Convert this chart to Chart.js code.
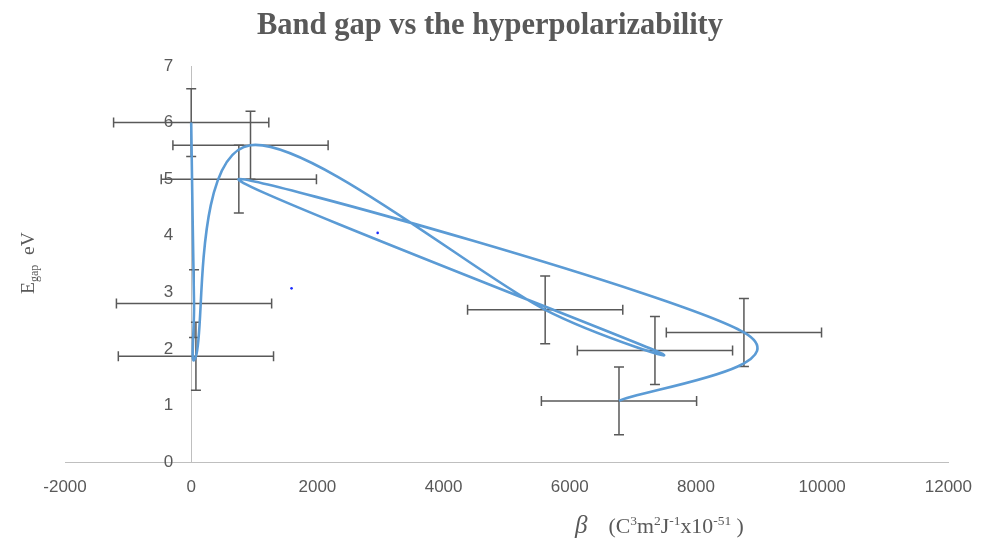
<!DOCTYPE html>
<html>
<head>
<meta charset="utf-8">
<title>Band gap vs the hyperpolarizability</title>
<script src="https://cdn.jsdelivr.net/npm/chart.js@4.4.1/dist/chart.umd.min.js"></script>
<style>
  html, body { margin: 0; padding: 0; background: #fff; }
  #wrap { width: 987px; height: 540px; }
</style>
</head>
<body>
<div id="wrap"><canvas id="gapChart" width="987" height="540"></canvas></div>
<script>
// points in the order the smoothed line runs through them
const betaValues = [0, 45, 75, 940, 5610, 7350, 755, 8760, 6780];
const gapValues = [6.0, 2.8, 1.87, 5.6, 2.69, 1.97, 5.0, 2.29, 1.08];
const betaErrors = [1230, 1230, 1230, 1230, 1230, 1230, 1230, 1230, 1230];
const gapErrors = [0.6, 0.6, 0.6, 0.6, 0.6, 0.6, 0.6, 0.6, 0.6];

// two stray blue dots in the plot
const dotBeta = [1590, 2955];
const dotGap = [3.07, 4.05];

const xTicks = [-2000, 0, 2000, 4000, 6000, 8000, 10000, 12000];
const yTicks = [0, 1, 2, 3, 4, 5, 6, 7];

const textGray = "#595959";
const tickFont = { family: "'Liberation Sans', Arial, sans-serif", size: 17 };
const serif = "'Liberation Serif', 'Times New Roman', serif";

// error bars, drawn under the line
const errorBars = {
    id: "errorBars",
    beforeDatasetsDraw(chart) {
        const ctx = chart.ctx;
        const xs = chart.scales.x;
        const ys = chart.scales.y;
        const cap = 5;
        ctx.save();
        ctx.strokeStyle = "#595959";
        ctx.lineWidth = 1.5;
        for (let i = 0; i < betaValues.length; i++) {
            const px = xs.getPixelForValue(betaValues[i]);
            const py = ys.getPixelForValue(gapValues[i]);
            const x1 = xs.getPixelForValue(betaValues[i] - betaErrors[i]);
            const x2 = xs.getPixelForValue(betaValues[i] + betaErrors[i]);
            const y1 = ys.getPixelForValue(gapValues[i] + gapErrors[i]);
            const y2 = ys.getPixelForValue(gapValues[i] - gapErrors[i]);
            ctx.beginPath();
            ctx.moveTo(x1, py); ctx.lineTo(x2, py);
            ctx.moveTo(x1, py - cap); ctx.lineTo(x1, py + cap);
            ctx.moveTo(x2, py - cap); ctx.lineTo(x2, py + cap);
            ctx.moveTo(px, y1); ctx.lineTo(px, y2);
            ctx.moveTo(px - cap, y1); ctx.lineTo(px + cap, y1);
            ctx.moveTo(px - cap, y2); ctx.lineTo(px + cap, y2);
            ctx.stroke();
        }
        ctx.restore();
    }
};

// Excel-like smoothing: control arm f*(next - prev), f = 1/6,
// shortened when it would reach past half the segment (pixel distances)
const excelSmooth = {
    id: "excelSmooth",
    beforeDatasetDraw(chart, args) {
        if (args.index !== 0) return;
        const line = args.meta.dataset;
        const pts = args.meta.data;
        line.updateControlPoints(chart.chartArea, "x");
        const n = pts.length;
        const d = (a, b) => Math.hypot(b.x - a.x, b.y - a.y);
        for (let i = 0; i < n - 1; i++) {
            const p0 = pts[Math.max(i - 1, 0)];
            const p1 = pts[i];
            const p2 = pts[i + 1];
            const p3 = pts[Math.min(i + 2, n - 1)];
            const d02 = d(p0, p2), d12 = d(p1, p2), d13 = d(p1, p3);
            let f = 1 / 6;
            if (d02 / 6 >= d12 / 2) f = Math.min(f, d12 / (2 * d02));
            if (d13 / 6 >= d12 / 2) f = Math.min(f, d12 / (2 * d13));
            p1.cp2x = p1.x + f * (p2.x - p0.x);
            p1.cp2y = p1.y + f * (p2.y - p0.y);
            p2.cp1x = p2.x - f * (p3.x - p1.x);
            p2.cp1y = p2.y - f * (p3.y - p1.y);
        }
        line._path = undefined;
    }
};

// y labels sit beside the axis at x = 0, push them left a bit
const yLabelShift = {
    id: "yLabelShift",
    beforeDraw(chart) {
        chart.scales.y.getLabelItems().forEach(item => {
            if (!item._shifted) {
                item.options.translation[0] -= 18;
                item._shifted = true;
            }
        });
    }
};

// draw a run of text pieces with sub/superscripts
function drawRuns(ctx, runs, x, y, size) {
    let cx = x;
    runs.forEach(function(r) {
        let fs = size * (r.scale || 1);
        let dy = 0;
        if (r.sup) { fs = size * 0.62; dy = -size * 0.38; }
        if (r.sub) { fs = size * 0.62; dy = size * 0.2; }
        ctx.font = (r.italic ? "italic " : "") + fs + "px " + serif;
        ctx.fillText(r.t, cx, y + dy);
        cx += ctx.measureText(r.t).width + (r.gap || 0);
    });
}

// chart title and axis titles (the axis titles need sub- and superscripts)
const titles = {
    id: "titles",
    afterDraw(chart) {
        const ctx = chart.ctx;
        ctx.save();
        ctx.fillStyle = textGray;
        ctx.textBaseline = "alphabetic";

        ctx.textAlign = "center";
        ctx.font = "bold 30.5px " + serif;
        ctx.fillText("Band gap vs the hyperpolarizability", 490, 34);

        ctx.textAlign = "left";
        drawRuns(ctx, [
            { t: "β", italic: true, scale: 1.15, gap: 21 },
            { t: "(C" }, { t: "3", sup: true }, { t: "m" }, { t: "2", sup: true },
            { t: "J" }, { t: "-1", sup: true }, { t: "x10" }, { t: "-51", sup: true }, { t: " )" }
        ], 575, 533, 21.8);

        ctx.translate(34, 294);
        ctx.rotate(-Math.PI / 2);
        drawRuns(ctx, [
            { t: "E" }, { t: "gap", sub: true }, { t: "  eV" }
        ], 0, 0, 19.5);
        ctx.restore();
    }
};

let chart = new Chart(document.getElementById("gapChart").getContext("2d"), {
    type: "scatter",
    data: {
        datasets: [{
            label: "Egap",
            data: betaValues.map((b, i) => ({ x: b, y: gapValues[i] })),
            showLine: true,
            borderColor: "#5B9BD5",
            backgroundColor: "#5B9BD5",
            borderWidth: 2.6,
            tension: 0.33,
            pointRadius: 0,
            pointHoverRadius: 0
        }, {
            label: "dots",
            data: dotBeta.map((b, i) => ({ x: b, y: dotGap[i] })),
            showLine: false,
            pointRadius: 1.3,
            borderWidth: 0,
            backgroundColor: "#1a2cff"
        }]
    },
    options: {
        responsive: false,
        animation: false,
        layout: { padding: { left: 65, right: 34, top: 66, bottom: 78 } },
        plugins: {
            legend: { display: false },
            tooltip: { enabled: false },
            title: { display: false }
        },
        elements: { line: { capBezierPoints: false } },
        scales: {
            x: {
                type: "linear",
                min: xTicks[0],
                max: xTicks[xTicks.length - 1],
                position: { y: 0 },
                afterBuildTicks: axis => { axis.ticks = xTicks.map(v => ({ value: v })); },
                grid: { display: false, drawTicks: false },
                border: { display: true, color: "#bfbfbf", width: 1 },
                ticks: {
                    color: textGray,
                    padding: 15,
                    maxRotation: 0,
                    font: tickFont,
                    callback: value => String(value)
                }
            },
            y: {
                type: "linear",
                min: yTicks[0],
                max: yTicks[yTicks.length - 1],
                position: { x: 0 },
                afterBuildTicks: axis => { axis.ticks = yTicks.map(v => ({ value: v })); },
                grid: { display: false, drawTicks: false },
                border: { display: true, color: "#bfbfbf", width: 1 },
                ticks: {
                    color: textGray,
                    font: tickFont,
                    callback: value => String(value)
                }
            }
        }
    },
    plugins: [errorBars, excelSmooth, yLabelShift, titles]
});
</script>
</body>
</html>
